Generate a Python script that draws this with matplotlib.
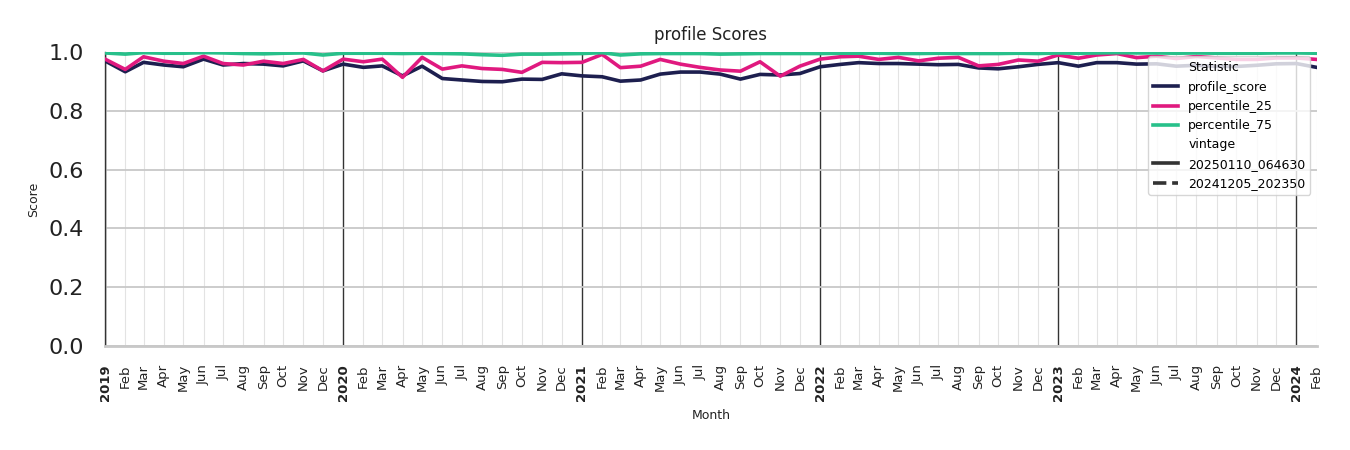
import matplotlib
matplotlib.use("Agg")
import matplotlib.pyplot as plt
import matplotlib.dates as mdates
from matplotlib.lines import Line2D
import numpy as np
import pandas as pd

months = pd.date_range("2019-01-01", "2024-02-01", freq="MS")

profile_score = [
    0.970, 0.933, 0.965, 0.956, 0.950, 0.976, 0.956, 0.961, 0.959, 0.953, 0.970, 0.936,
    0.959, 0.948, 0.953, 0.919, 0.952, 0.910, 0.905, 0.900, 0.899, 0.908, 0.907, 0.926,
    0.919, 0.916, 0.901, 0.905, 0.925, 0.932, 0.932, 0.925, 0.908, 0.924, 0.922, 0.927,
    0.950, 0.958, 0.964, 0.961, 0.961, 0.959, 0.957, 0.958, 0.946, 0.943, 0.950, 0.958,
    0.964, 0.952, 0.964, 0.964, 0.959, 0.960, 0.952, 0.955, 0.951, 0.951, 0.955, 0.960,
    0.961, 0.948,
]
percentile_25 = [
    0.976, 0.941, 0.984, 0.969, 0.961, 0.986, 0.961, 0.956, 0.969, 0.961, 0.975, 0.936,
    0.976, 0.967, 0.976, 0.914, 0.982, 0.942, 0.953, 0.944, 0.941, 0.931, 0.965, 0.964,
    0.965, 0.992, 0.947, 0.952, 0.975, 0.959, 0.948, 0.939, 0.935, 0.967, 0.918, 0.952,
    0.976, 0.984, 0.986, 0.975, 0.982, 0.970, 0.979, 0.982, 0.953, 0.958, 0.973, 0.969,
    0.990, 0.979, 0.990, 0.995, 0.981, 0.986, 0.978, 0.985, 0.980, 0.975, 0.975, 0.980,
    0.980, 0.975,
]
percentile_75 = [
    0.997, 0.993, 0.998, 0.996, 0.996, 0.998, 0.997, 0.995, 0.994, 0.996, 0.997, 0.990,
    0.996, 0.996, 0.996, 0.995, 0.996, 0.995, 0.994, 0.991, 0.989, 0.993, 0.993, 0.994,
    0.995, 0.998, 0.990, 0.994, 0.995, 0.995, 0.995, 0.993, 0.994, 0.995, 0.995, 0.995,
    0.995, 0.996, 0.996, 0.996, 0.995, 0.995, 0.996, 0.995, 0.995, 0.995, 0.996, 0.995,
    0.997, 0.996, 0.997, 0.998, 0.997, 0.997, 0.996, 0.997, 0.996, 0.996, 0.996, 0.997,
    0.997, 0.996,
]

series_names = ["profile_score", "percentile_25", "percentile_75"]
series_colors = ["#1d1f4f", "#e0197f", "#27c08a"]
vintages = ["20250110_064630", "20241205_202350"]

fig = plt.figure(figsize=(13.5, 4.5), dpi=100)
ax = fig.add_axes([0.0778, 0.231, 0.8974, 0.6533])

for name, vals, col in zip(series_names, [profile_score, percentile_25, percentile_75], series_colors):
    ax.plot(months, vals, color=col, lw=2.6, zorder=3)

ax.set_xlim(months[0], months[-1])
ax.set_ylim(0, 1.0)
ax.set_yticks(np.arange(0, 1.01, 0.2))
ax.set_yticklabels([f"{v:.1f}" for v in np.arange(0, 1.01, 0.2)], fontsize=16, color="#222222")

ax.xaxis.set_major_locator(mdates.YearLocator())
ax.xaxis.set_major_formatter(mdates.DateFormatter("%Y"))
ax.xaxis.set_minor_locator(mdates.MonthLocator(bymonth=range(2, 13)))
ax.xaxis.set_minor_formatter(mdates.DateFormatter("%b"))
for lab in ax.get_xticklabels(which="major"):
    lab.set_fontweight("bold")
ax.tick_params(axis="x", which="major", labelsize=9.5, rotation=90, length=0, pad=13, labelcolor="#222222")
ax.tick_params(axis="x", which="minor", labelsize=9.5, rotation=90, length=0, pad=13, labelcolor="#222222")
ax.tick_params(axis="y", length=0, pad=15)

ax.grid(axis="y", color="#c8c8c8", lw=1.3, zorder=0)
ax.grid(axis="x", which="major", color="#333333", lw=1.0, zorder=1)
ax.grid(axis="x", which="minor", color="#e3e3e3", lw=0.8, zorder=0)

for s in ["top", "right"]:
    ax.spines[s].set_visible(False)
ax.spines["left"].set_color("#333333")
ax.spines["left"].set_linewidth(1.0)
ax.spines["bottom"].set_color("#c8c8c8")
ax.spines["bottom"].set_linewidth(2.0)

ax.set_title("profile Scores", fontsize=12, color="#222222", pad=9)
ax.set_ylabel("Score", fontsize=9, color="#222222", labelpad=6.5)
ax.set_xlabel("Month", fontsize=9, color="#222222", labelpad=6)

handles = [Line2D([], [], color="none", label="Statistic")]
for name, col in zip(series_names, series_colors):
    handles.append(Line2D([], [], color=col, lw=2.6, label=name))
handles.append(Line2D([], [], color="none", label="vintage"))
handles.append(Line2D([], [], color="#333333", lw=2.6, ls="-", label=vintages[0]))
handles.append(Line2D([], [], color="#333333", lw=2.6, ls="--", label=vintages[1]))
leg = ax.legend(handles=handles, loc="upper right", bbox_to_anchor=(0.995, 0.985), borderaxespad=0,
                fontsize=9, frameon=True, framealpha=0.8, edgecolor="#cccccc", handlelength=2.0,
                labelspacing=0.5, borderpad=0.4)
leg.set_zorder(5)

fig.savefig("out.png", dpi=100)
